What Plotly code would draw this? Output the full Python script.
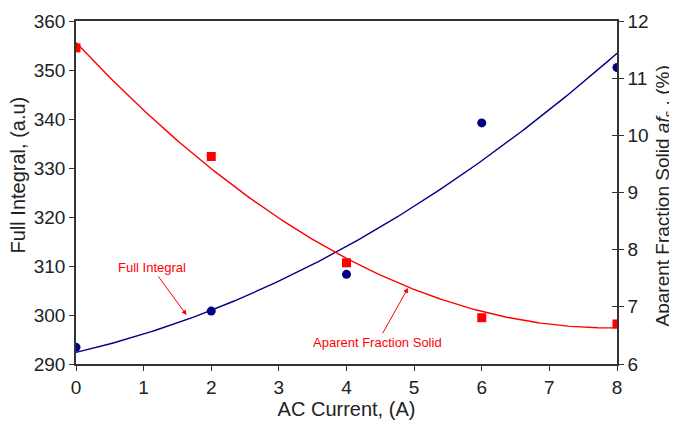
import numpy as np
import plotly.graph_objects as go

# Data
current = [0, 2, 4, 6, 8]                                 # AC Current, (A)
full_integral = [293.4, 300.8, 308.3, 339.2, 350.5]       # Full Integral, (a.u) - left axis
fraction_solid = [11.53, 9.63, 7.77, 6.81, 6.70]          # Apparent fraction solid, (%) - right axis
x_ticks = [0, 1, 2, 3, 4, 5, 6, 7, 8]
left_ticks = [290, 300, 310, 320, 330, 340, 350, 360]
right_ticks = [6, 7, 8, 9, 10, 11, 12]

# Quadratic regression curves fitted to the data
xs = np.linspace(min(current), max(current), 200)
fit_fi = np.polyval(np.polyfit(current, full_integral, 2), xs)
fit_fs = np.polyval(np.polyfit(current, fraction_solid, 2), xs)

BLUE = "#000080"
RED = "#ff0000"
AX = "#333333"
TXT = "#222222"
FONT = "Liberation Sans, Arial, sans-serif"

fig = go.Figure()
fig.add_trace(go.Scatter(x=xs, y=fit_fi, mode="lines", line=dict(color=BLUE, width=1.4),
                         yaxis="y", showlegend=False, hoverinfo="skip"))
fig.add_trace(go.Scatter(x=current, y=full_integral, mode="markers",
                         marker=dict(color=BLUE, size=9, symbol="circle"),
                         yaxis="y", showlegend=False))
fig.add_trace(go.Scatter(x=xs, y=fit_fs, mode="lines", line=dict(color=RED, width=1.4),
                         yaxis="y2", showlegend=False, hoverinfo="skip"))
fig.add_trace(go.Scatter(x=current, y=fraction_solid, mode="markers",
                         marker=dict(color=RED, size=9, symbol="square"),
                         yaxis="y2", showlegend=False))
# invisible trace for inner tick marks of the right axis
fig.add_trace(go.Scatter(x=[current[0]], y=[right_ticks[0]], mode="markers",
                         marker=dict(opacity=0), yaxis="y3", showlegend=False, hoverinfo="skip"))

# the page body adds an 8px offset, so the figure is 8px smaller than the window
fig.update_layout(
    width=669, height=417,
    margin=dict(l=68, r=60, t=13, b=61, autoexpand=False),
    paper_bgcolor="white", plot_bgcolor="white",
    font=dict(family=FONT, color=TXT),
    xaxis=dict(
        range=[0, 8], tickvals=x_ticks, ticks="outside", ticklen=5, tickcolor=AX,
        showline=True, linecolor=AX, linewidth=1.5, mirror=True, showgrid=False, zeroline=False,
        automargin=False,
        tickfont=dict(size=19, family=FONT, color=TXT),
        title=dict(text="AC Current, (A)", font=dict(size=20, family=FONT, color=TXT), standoff=4),
    ),
    yaxis=dict(
        range=[290, 360], tickvals=left_ticks, ticks="outside", ticklen=5, tickcolor=AX,
        showline=True, linecolor=AX, linewidth=1.5, showgrid=False, zeroline=False,
        automargin=False,
        tickfont=dict(size=19, family=FONT, color=TXT),
    ),
    yaxis2=dict(
        range=[6, 12], tickvals=right_ticks, ticks="outside", ticklen=5, tickcolor=AX,
        overlaying="y", side="right", anchor="x", automargin=False,
        showline=True, linecolor=AX, linewidth=1.5, showgrid=False, zeroline=False,
        tickfont=dict(size=19, family=FONT, color=TXT),
    ),
    yaxis3=dict(
        range=[6, 12], tickvals=right_ticks, ticks="inside", ticklen=5, tickcolor=AX,
        overlaying="y", side="right", anchor="x", showticklabels=False, automargin=False,
        showline=False, showgrid=False, zeroline=False,
    ),
    annotations=[
        dict(x=-0.107, y=0.55, xref="paper", yref="paper", text="Full Integral, (a.u)",
             textangle=-90, showarrow=False, xanchor="center", yanchor="middle",
             font=dict(size=20, family=FONT, color=TXT)),
        dict(x=1.086, y=0.49, xref="paper", yref="paper",
             text="Aparent Fraction Solid <i>af</i><sub>s</sub> , (%)",
             textangle=-90, showarrow=False, xanchor="center", yanchor="middle",
             font=dict(size=19, family=FONT, color=TXT)),
        dict(x=1.635, y=300.0, xref="x", yref="y", ax=1.12, ay=309.7, axref="x", ayref="y",
             text="Full Integral", showarrow=True, arrowhead=2, arrowsize=1, arrowwidth=1,
             arrowcolor=RED, font=dict(size=13, family=FONT, color=RED)),
        dict(x=4.91, y=7.33, xref="x", yref="y2", ax=4.46, ay=6.38, axref="x", ayref="y2",
             text="Aparent Fraction Solid", showarrow=True, arrowhead=2, arrowsize=1, arrowwidth=1,
             arrowcolor=RED, font=dict(size=13, family=FONT, color=RED)),
    ],
)

fig.write_html("out.html")
